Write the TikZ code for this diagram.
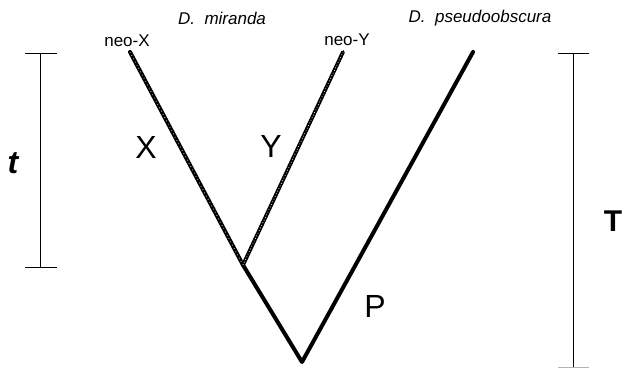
\documentclass[tikz,border=0pt]{standalone}
\usepackage{fontspec}
\setmainfont{Liberation Sans}
\begin{document}
\begin{tikzpicture}[x=1pt,y=-1pt,
  small/.style={font=\fontsize{17}{19}\selectfont, inner sep=0pt},
  species/.style={font=\fontsize{17}{19}\selectfont\itshape, inner sep=0pt},
  big/.style={font=\fontsize{32}{36}\selectfont, inner sep=0pt},
  bigbold/.style={font=\fontsize{30}{34}\selectfont\bfseries, inner sep=0pt},
  branch/.style={line width=4pt, line cap=round, line join=round},
  scalebar/.style={line width=1pt}]
\useasboundingbox (0,0) rectangle (624,368);
% branch points
\coordinate (root) at (302,362);
\coordinate (junc) at (243,265);
\coordinate (nx) at (130,52);
\coordinate (ny) at (343,52);
\coordinate (ps) at (473,52);
% branches
\draw[branch] (junc) -- (root) -- (ps);
\draw[branch, black] (junc) -- (nx);
\draw[line width=0.7pt, white, dash pattern=on 0.7pt off 3pt] (junc) -- (nx);
\draw[line width=3.8pt, black, line cap=round] (junc) -- (ny);
\draw[line width=0.7pt, white, dash pattern=on 0.7pt off 2.2pt] (junc) -- (ny);
% labels
\node[small] (lnx) at (127,41) {neo-X};
\node[small] (lny) at (347,40) {neo-Y};
\node[species] (dm) at (222,18) {D.\ \ miranda};
\node[species] (dp) at (480,18) {D.\ \ pseudoobscura};
\node[big] (lx) at (146,147) {X};
\node[big] (ly) at (271,146) {Y};
\node[big] (lp) at (375,306) {P};
% scale bars
\coordinate (tt) at (40,53);
\coordinate (tb) at (40,267);
\draw[scalebar] (tt) -- (tb);
\draw[scalebar] (25,53) -- (57,53);
\draw[scalebar] (25,267) -- (57,267);
\node[inner sep=0pt, font=\fontsize{32}{36}\selectfont\bfseries\itshape] (lt) at (13,163) {t};
\coordinate (Tt) at (573,53);
\coordinate (Tb) at (573,368);
\draw[scalebar] (Tt) -- (Tb);
\draw[scalebar] (558,53) -- (589,53);
\draw[line width=1pt, black!30] (558,367) -- (589,367);
\node[bigbold] (lT) at (613,221) {T};
\end{tikzpicture}
\end{document}
